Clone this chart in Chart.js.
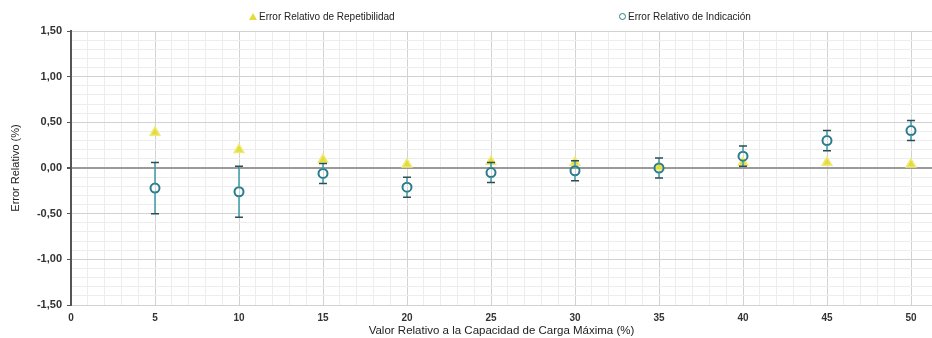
<!DOCTYPE html>
<html>
<head>
<meta charset="utf-8">
<script src="https://cdn.jsdelivr.net/npm/chart.js@4"></script>
<style>
    body { margin: 0; background: #fff; }
    .wrap { position: relative; width: 932px; height: 338px; overflow: hidden; font-family: "Liberation Sans", Arial, sans-serif; }
    .legend { position: absolute; top: 11px; font-size: 10px; color: #222; white-space: nowrap; }
    .legend .mark { display: inline-block; vertical-align: middle; margin-right: 2px; }
    .tri { width: 0; height: 0; border-left: 4px solid transparent; border-right: 4px solid transparent; border-bottom: 7px solid #e3dc3a; position: relative; top: -1px; }
    .circ { width: 5px; height: 5px; border: 1.5px solid #2a7c8c; border-radius: 50%; position: relative; top: -1px; }
</style>
</head>
<body>
<div class="wrap">
    <div class="legend" style="left: 249px"><span class="mark tri"></span>Error Relativo de Repetibilidad</div>
    <div class="legend" style="left: 619px"><span class="mark circ"></span>Error Relativo de Indicación</div>
    <!-- el lienzo es algo mas ancho para que el area de datos llegue al borde -->
    <canvas id="chart" width="939" height="338"></canvas>
</div>
<script>
// valores
const cargas = [5, 10, 15, 20, 25, 30, 35, 40, 45, 50]
const errorRepetibilidad = [0.39, 0.20, 0.09, 0.04, 0.07, 0.06, 0.01, 0.06, 0.06, 0.04]
const errorIndicacion = [-0.22, -0.26, -0.06, -0.21, -0.05, -0.03, 0.00, 0.13, 0.30, 0.41]
const incertidumbre = [0.28, 0.28, 0.11, 0.11, 0.11, 0.11, 0.11, 0.11, 0.11, 0.11]

const isMajor = (v, step) => Math.abs(v / step - Math.round(v / step)) < 1e-6

// barras de error dibujadas con las escalas del grafico
const errorBars = {
    id: "errorBars",
    afterDatasetsDraw(chart) {
        const { ctx, scales } = chart
        const xs = scales.x
        const ys = scales.y
        ctx.save()
        cargas.forEach((c, i) => {
            const px = xs.getPixelForValue(c)
            const top = ys.getPixelForValue(errorIndicacion[i] + incertidumbre[i])
            const bottom = ys.getPixelForValue(errorIndicacion[i] - incertidumbre[i])
            const mid = ys.getPixelForValue(errorIndicacion[i])
            ctx.strokeStyle = "#3f9cab"
            ctx.lineWidth = 1.5
            ctx.beginPath()
            ctx.moveTo(px, top)
            ctx.lineTo(px, mid - 4.5)
            ctx.moveTo(px, mid + 4.5)
            ctx.lineTo(px, bottom)
            ctx.stroke()
            ctx.strokeStyle = "#2d4d57"
            ctx.lineWidth = 1.5
            ctx.beginPath()
            ctx.moveTo(px - 4, top)
            ctx.lineTo(px + 4, top)
            ctx.moveTo(px - 4, bottom)
            ctx.lineTo(px + 4, bottom)
            ctx.stroke()
        })
        ctx.restore()
    },
}

new Chart(document.getElementById("chart"), {
    type: "scatter",
    data: {
        datasets: [
            {
                label: "Error Relativo de Indicación",
                data: cargas.map((c, i) => ({ x: c, y: errorIndicacion[i] })),
                pointStyle: "circle",
                pointRadius: 4.5,
                pointBorderWidth: 2,
                pointBorderColor: "#2a7c8c",
                pointBackgroundColor: "rgba(255,255,255,0)",
                order: 1,
            },
            {
                label: "Error Relativo de Repetibilidad",
                data: cargas.map((c, i) => ({ x: c, y: errorRepetibilidad[i] })),
                pointStyle: "triangle",
                pointRadius: 5.5,
                pointBorderWidth: 1.5,
                pointBorderColor: "#efe978",
                pointBackgroundColor: "#e3dc3a",
                order: 2,
            },
        ],
    },
    plugins: [errorBars],
    options: {
        responsive: false,
        animation: false,
        layout: { padding: { top: 31, right: 0, left: 0, bottom: 0 } },
        plugins: {
            legend: { display: false },
            tooltip: { enabled: false },
        },
        scales: {
            x: {
                type: "linear",
                min: 0,
                max: 51.25,
                afterFit: (scale) => { scale.height = 33 },
                border: { display: false },
                grid: {
                    color: (c) => (isMajor(c.tick.value, 5) ? "#d2d2d2" : "#ededed"),
                    lineWidth: 1,
                    drawTicks: false,
                },
                ticks: {
                    stepSize: 1,
                    autoSkip: false,
                    maxRotation: 0,
                    padding: 7,
                    color: "#333",
                    font: { family: "Liberation Sans", size: 10, weight: "bold" },
                    callback: (v) => (isMajor(v, 5) ? String(v) : ""),
                },
                title: {
                    display: true,
                    text: "Valor Relativo a la Capacidad de Carga Máxima (%)",
                    color: "#222",
                    padding: { top: 2, bottom: 0 },
                    font: { family: "Liberation Sans", size: 11.5 },
                },
            },
            y: {
                min: -1.5,
                max: 1.5,
                afterFit: (scale) => { scale.width = 71 },
                border: { display: true, color: "#555", width: 2 },
                grid: {
                    color: (c) => {
                        const v = c.tick.value
                        if (Math.abs(v) < 1e-6) return "#9a9a9a"
                        return isMajor(v, 0.5) ? "#d2d2d2" : "#ededed"
                    },
                    lineWidth: (c) => (Math.abs(c.tick.value) < 1e-6 ? 2 : 1),
                    tickColor: (c) => (isMajor(c.tick.value, 0.5) ? "#555" : "rgba(0,0,0,0)"),
                    tickLength: 4,
                },
                ticks: {
                    stepSize: 0.1,
                    autoSkip: false,
                    padding: 5,
                    color: "#333",
                    font: { family: "Liberation Sans", size: 11, weight: "bold" },
                    callback: (v) => (isMajor(v, 0.5) ? v.toFixed(2).replace(".", ",") : ""),
                },
                title: {
                    display: true,
                    text: "Error Relativo (%)",
                    color: "#222",
                    padding: { top: 9, bottom: 0 },
                    font: { family: "Liberation Sans", size: 11 },
                },
            },
        },
    },
})
</script>
</body>
</html>
